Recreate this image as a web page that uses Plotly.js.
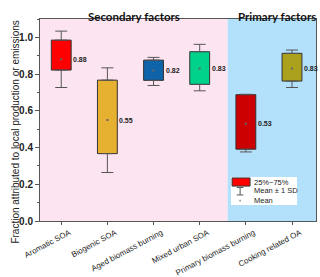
<!DOCTYPE html>
<html><head><meta charset="utf-8">
<script src="https://cdn.plot.ly/plotly-3.0.1.min.js"></script>
<style>html,body{margin:0;padding:0;background:#fff}#c{width:320px;height:277px}</style>
</head><body><div id="c"></div>
<script>
const categories = ["Aromatic SOA","Biogenic SOA","Aged biomass burning","Mixed urban SOA","Primary biomass burning","Cooking related OA"];
const q1 = [0.822, 0.367, 0.766, 0.744, 0.391, 0.762];
const q3 = [0.985, 0.767, 0.876, 0.922, 0.688, 0.913];
const meanVals = [0.88, 0.55, 0.82, 0.83, 0.53, 0.83];
const sdLow = [0.727, 0.264, 0.738, 0.709, 0.376, 0.727];
const sdHigh = [1.034, 0.834, 0.891, 0.962, 0.690, 0.931];
const meanLabels = ["0.88","0.55","0.82","0.83","0.53","0.83"];
const colors = ["#ff0000","#e6b030","#0f63a8","#00d28c","#cc0000","#aca11c"];
const groupTitles = ["Secondary factors","Primary factors"];
const legendTexts = ["25%~75%","Mean \u00b1 1 SD","Mean"];

const idx = categories.map((c,i)=>i);
const traces = [
  {type:'bar', x:idx, base:q1, y:q3.map((v,i)=>v-q1[i]), width:0.43,
   marker:{color:colors, line:{color:'#333', width:1}}, hoverinfo:'skip'},
  {type:'scatter', mode:'markers', x:idx, y:q3, marker:{size:0.1, color:'rgba(0,0,0,0)'},
   error_y:{type:'data', symmetric:false, array:sdHigh.map((v,i)=>Math.max(0,v-q3[i])), arrayminus:q3.map(()=>0), color:'#555', thickness:1, width:6}},
  {type:'scatter', mode:'markers', x:idx, y:q1, marker:{size:0.1, color:'rgba(0,0,0,0)'},
   error_y:{type:'data', symmetric:false, array:q1.map(()=>0), arrayminus:sdLow.map((v,i)=>Math.max(0,q1[i]-v)), color:'#555', thickness:1, width:6}},
  {type:'scatter', mode:'markers', x:idx, y:meanVals, marker:{symbol:'square', size:2, color:'#666'}}
];

const annotations = meanLabels.map((t,i)=>({x:idx[i], y:meanVals[i], xref:'x', yref:'y', text:t, showarrow:false,
  xanchor:'left', xshift:10, font:{family:'Liberation Sans, Arial', size:7, color:'#222', weight:'bold'}}));
annotations.push({x:0.339, y:1.054, xref:'paper', yref:'paper', text:groupTitles[0], showarrow:false,
  xanchor:'center', font:{family:'Lato', size:11.5, color:'#111', weight:'bold'}});
annotations.push({x:1.007, y:1.054, xref:'paper', yref:'paper', text:groupTitles[1], showarrow:false,
  xanchor:'right', font:{family:'Lato', size:11.5, color:'#111', weight:'bold'}});
annotations.push({x:-0.116, y:0.44, xref:'paper', yref:'paper', text:'Fraction attributed to local production or emissions',
  textangle:-90, showarrow:false, font:{family:'Liberation Sans, Arial', size:10, color:'#222'}});
const ly = [0.193, 0.149, 0.1];
legendTexts.forEach((t,i)=>annotations.push({x:0.768, y:ly[i], xref:'paper', yref:'paper', text:t, showarrow:false,
  xanchor:'left', yanchor:'middle', font:{family:'Liberation Sans, Arial', size:7.5, color:'#222'}}));

const shapes = [
  {type:'rect', xref:'paper', yref:'paper', x0:0, x1:0.68, y0:0, y1:1, fillcolor:'#fde4f1', line:{width:0}, layer:'below'},
  {type:'rect', xref:'paper', yref:'paper', x0:0.68, x1:1, y0:0, y1:1, fillcolor:'#b3e0fa', line:{width:0}, layer:'below'},
  {type:'rect', xref:'paper', yref:'paper', x0:0.692, x1:0.931, y0:0.079, y1:0.218, fillcolor:'#ffffff', line:{width:0}},
  {type:'rect', xref:'paper', yref:'paper', x0:0.696, x1:0.761, y0:0.173, y1:0.213, fillcolor:'#ff0000', line:{color:'#333', width:1}},
  {type:'line', xref:'paper', yref:'paper', x0:0.725, x1:0.725, y0:0.129, y1:0.166, line:{color:'#555', width:1}},
  {type:'line', xref:'paper', yref:'paper', x0:0.713, x1:0.737, y0:0.166, y1:0.166, line:{color:'#555', width:1}},
  {type:'line', xref:'paper', yref:'paper', x0:0.713, x1:0.737, y0:0.129, y1:0.129, line:{color:'#555', width:1}},
  {type:'rect', xref:'paper', yref:'paper', x0:0.722, x1:0.728, y0:0.097, y1:0.105, fillcolor:'#999', line:{width:0}}
];

const layout = {
  width:320, height:277, margin:{l:40, r:4, t:19, b:56},
  paper_bgcolor:'#ffffff', plot_bgcolor:'rgba(0,0,0,0)', showlegend:false,
  font:{family:'Liberation Sans, Arial', color:'#222'},
  xaxis:{range:[-0.46,5.52], tickvals:idx, ticktext:categories, tickangle:-28,
    tickfont:{size:8, color:'#222'}, ticks:'outside', ticklen:3, tickcolor:'#555', ticklabelshift:8,
    showline:true, mirror:true, linecolor:'#555', linewidth:1, showgrid:false, zeroline:false},
  yaxis:{range:[0,1.1], tickvals:[0,0.2,0.4,0.6,0.8,1.0], tickformat:'.1f',
    tickfont:{size:10, color:'#222', weight:'bold'}, ticks:'outside', ticklen:4, tickcolor:'#555',
    minor:{dtick:0.1, tick0:0, ticks:'outside', ticklen:2, tickcolor:'#555'},
    showline:true, mirror:true, linecolor:'#555', linewidth:1, showgrid:false, zeroline:false},
  shapes:shapes, annotations:annotations
};
Plotly.newPlot('c', traces, layout, {displayModeBar:false, staticPlot:true});
</script></body></html>
